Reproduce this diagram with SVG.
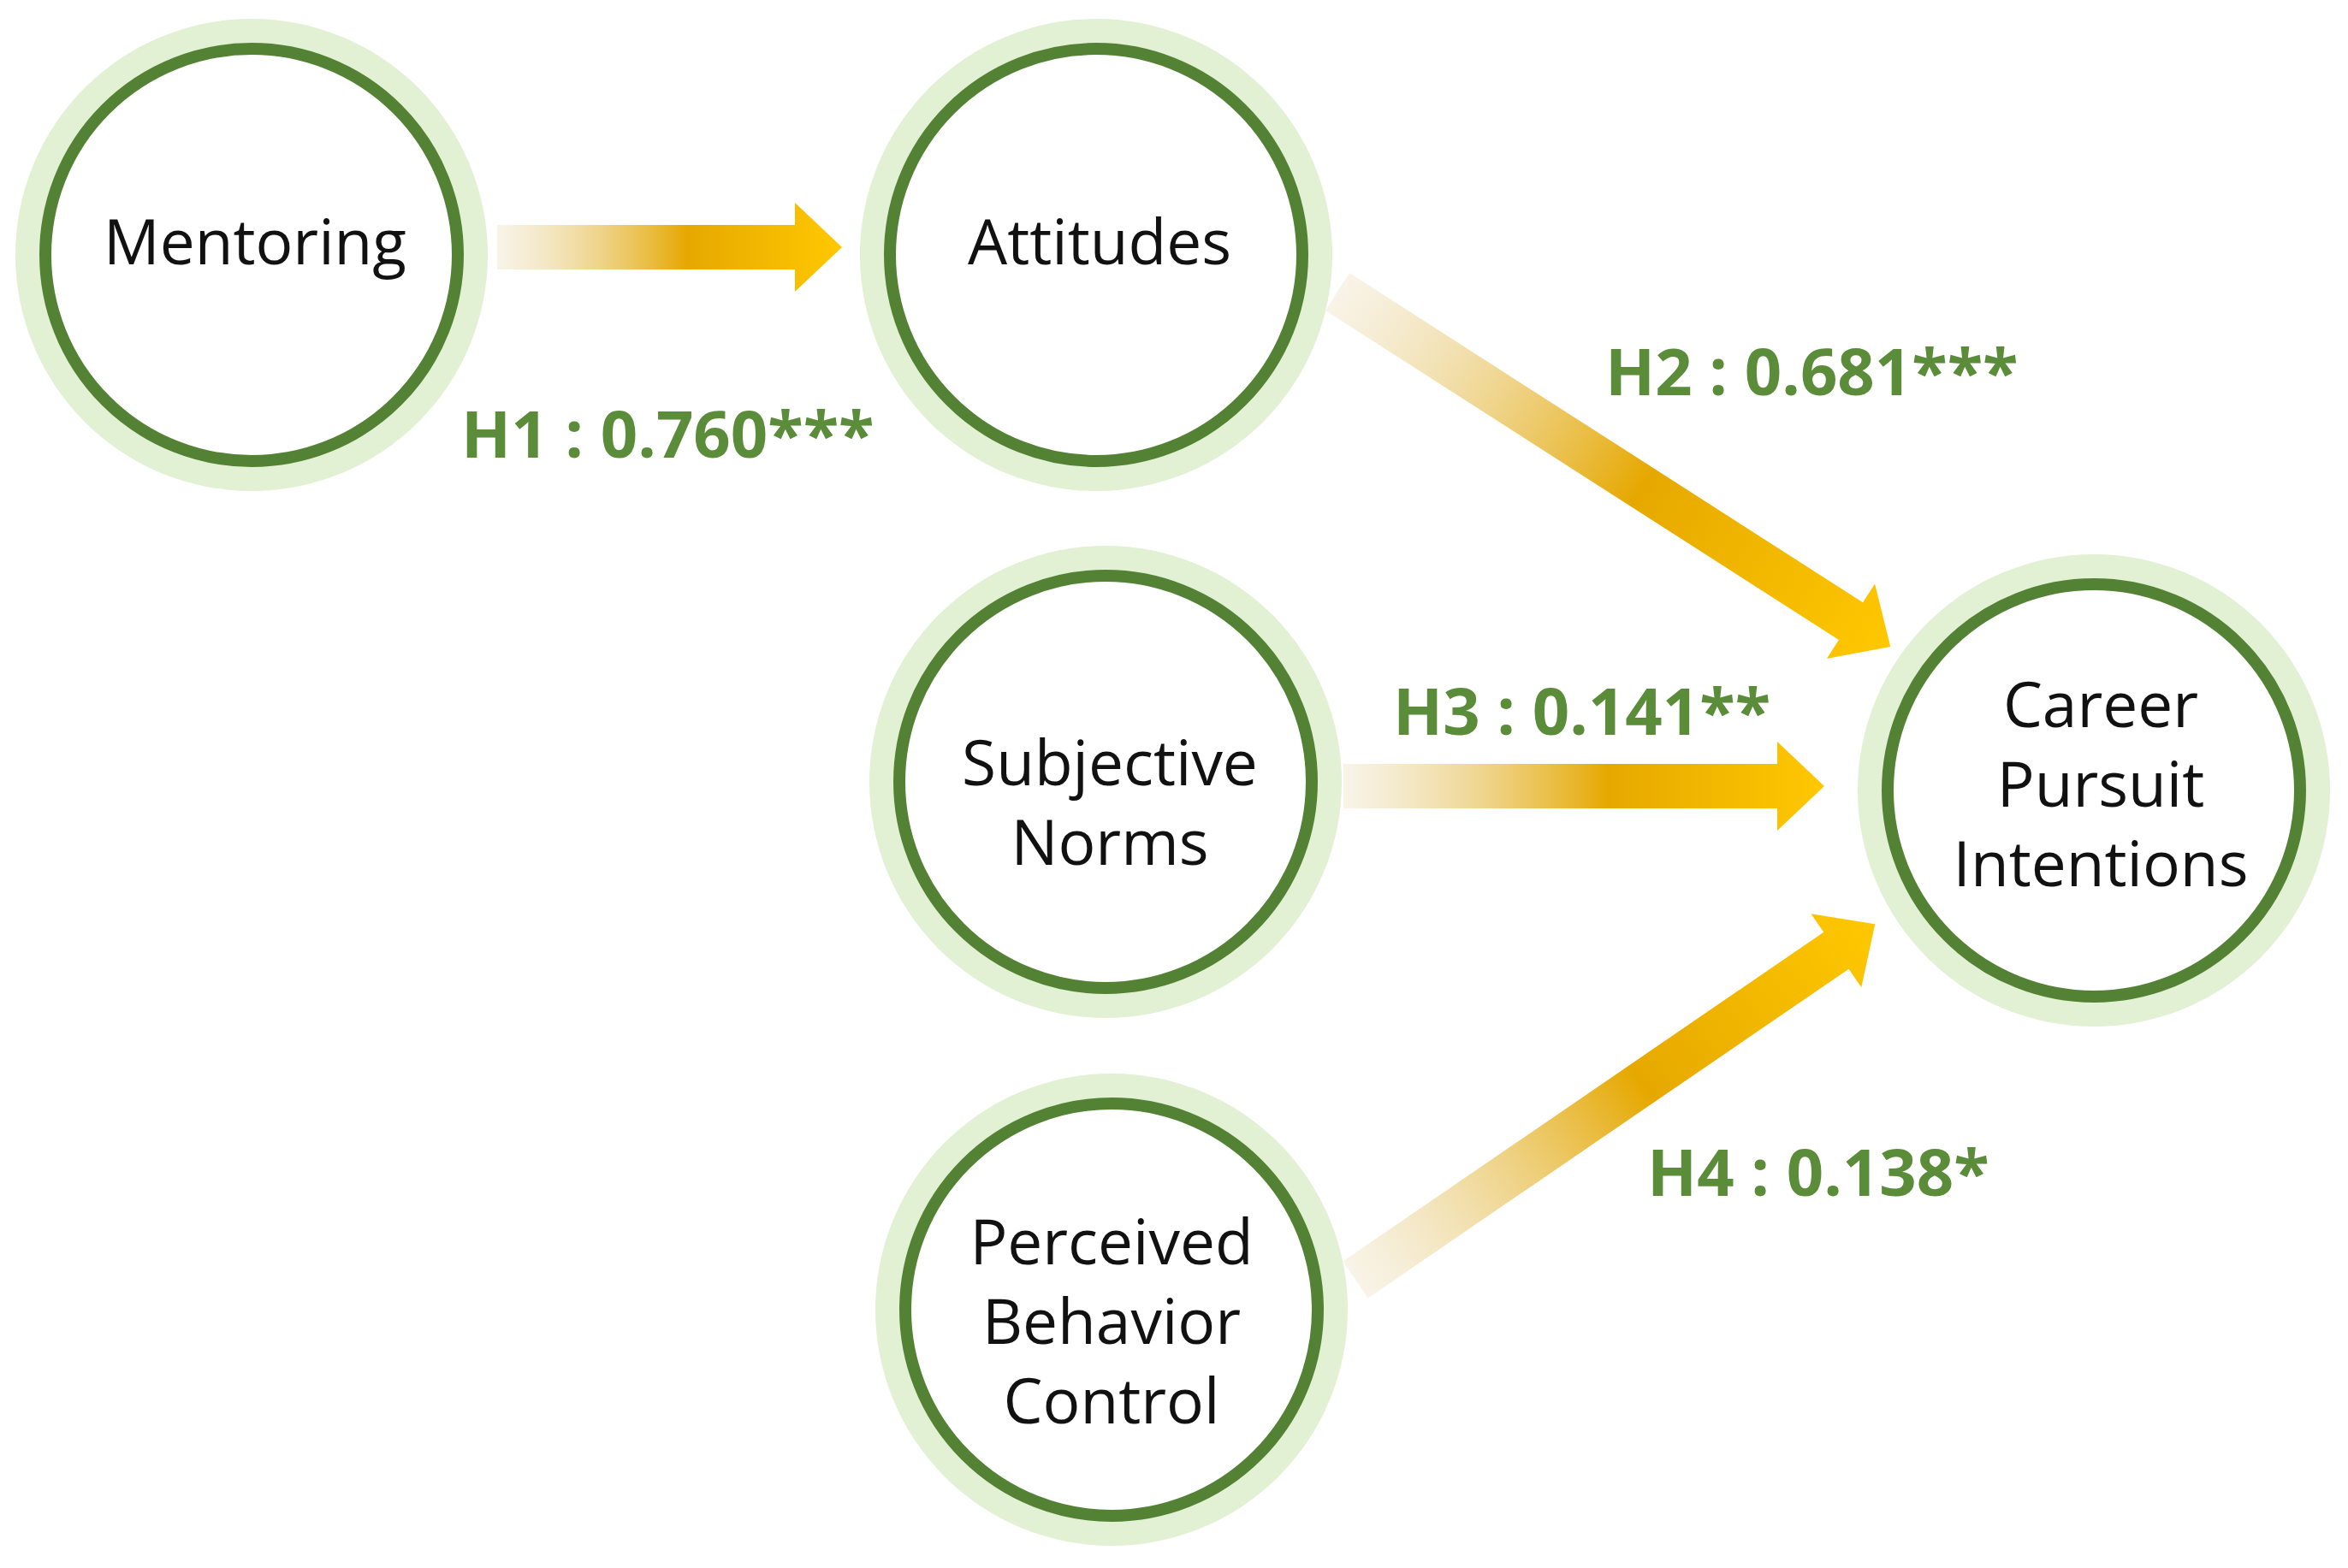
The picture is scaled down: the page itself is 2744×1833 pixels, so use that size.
<svg xmlns="http://www.w3.org/2000/svg" width="2744" height="1833" viewBox="0 0 2744 1833">
<style>
.glow{fill:#e2f0d4}
.ring{fill:#fff;stroke:#548235;stroke-width:14}
.t{font-family:"Open Sans","Noto Sans",sans-serif;font-size:73px;fill:#111;text-anchor:middle}
.lab{font-family:"Open Sans","Noto Sans",sans-serif;font-size:76px;font-weight:bold;fill:#5b8c3a}
</style>
<defs>
<linearGradient id="g" x1="0" y1="0" x2="1" y2="0">
<stop offset="0" stop-color="#e8d9b0" stop-opacity="0.3"/>
<stop offset="0.55" stop-color="#e6a800"/>
<stop offset="1" stop-color="#ffc800"/>
</linearGradient>
</defs>
<rect width="2744" height="1833" fill="#fff"/>
<g id="connectors" fill="url(#g)">
<path transform="translate(581,289)" d="M0,-26 L348,-26 L348,-52 L403,0 L348,52 L348,26 L0,26 Z"/>
<path transform="translate(1563,341) rotate(32.7)" d="M0,-26 L713,-26 L713,-52 L768,0 L713,52 L713,26 L0,26 Z"/>
<path transform="translate(1570,919)" d="M0,-26 L507,-26 L507,-52 L562,0 L507,52 L507,26 L0,26 Z"/>
<path transform="translate(1584,1496) rotate(-34.4)" d="M0,-26 L681,-26 L681,-52 L736,0 L681,52 L681,26 L0,26 Z"/>
</g>
<g id="labels">
<text class="lab" x="539" y="535">H1 : 0.760***</text>
<text class="lab" x="1876" y="462">H2 : 0.681***</text>
<text class="lab" x="1628" y="859">H3 : 0.141**</text>
<text class="lab" x="1925" y="1398">H4 : 0.138*</text>
</g>
<g id="mentoring"><circle class="glow" cx="294" cy="298" r="276"/><circle class="ring" cx="294" cy="298" r="241"/><text class="t" x="298" y="309">Mentoring</text></g>
<g id="attitudes"><circle class="glow" cx="1281" cy="298" r="276"/><circle class="ring" cx="1281" cy="298" r="241"/><text class="t" x="1285" y="309">Attitudes</text></g>
<g id="subjective"><circle class="glow" cx="1292" cy="914" r="276"/><circle class="ring" cx="1292" cy="914" r="241"/><text class="t" x="1297" y="918">Subjective</text><text class="t" x="1297" y="1011">Norms</text></g>
<g id="pbc"><circle class="glow" cx="1299" cy="1531" r="276"/><circle class="ring" cx="1299" cy="1531" r="241"/><text class="t" x="1299" y="1478">Perceived</text><text class="t" x="1299" y="1571">Behavior</text><text class="t" x="1299" y="1664">Control</text></g>
<g id="career"><circle class="glow" cx="2447" cy="924" r="276"/><circle class="ring" cx="2447" cy="924" r="241"/><text class="t" x="2455" y="850">Career</text><text class="t" x="2455" y="943">Pursuit</text><text class="t" x="2455" y="1036">Intentions</text></g>
</svg>
